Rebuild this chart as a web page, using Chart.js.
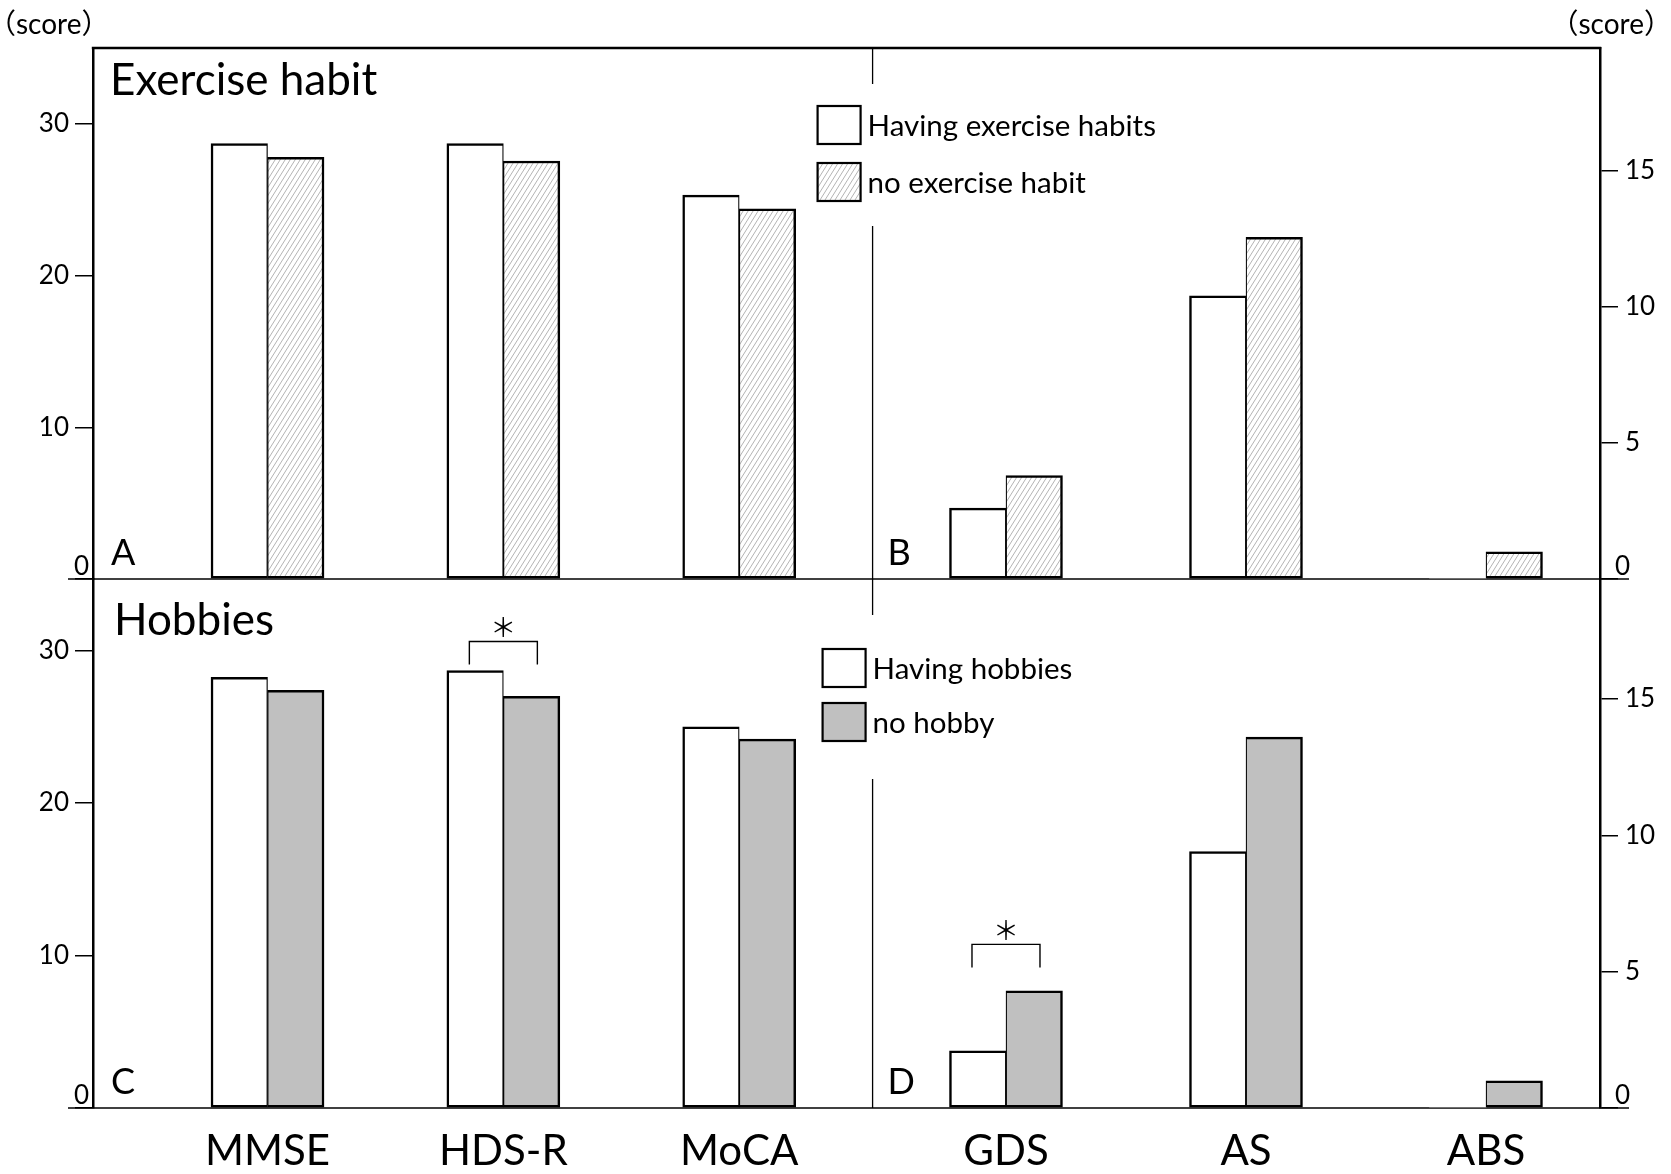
<!DOCTYPE html>
<html>
<head>
<meta charset="utf-8">
<title>Exercise habit / Hobbies</title>
<script src="https://cdn.jsdelivr.net/npm/chart.js@4.4.0/dist/chart.umd.min.js"></script>
<style>
  html, body { margin: 0; padding: 0; background: #fff; }
  #wrap { position: relative; width: 1671px; height: 1174px; }
  #wrap canvas { position: absolute; left: 0; top: 0; }
</style>
</head>
<body>
<div id="wrap">
  <canvas id="topLeft" width="1671" height="1174"></canvas>
  <canvas id="topRight" width="1671" height="1174"></canvas>
  <canvas id="bottomLeft" width="1671" height="1174"></canvas>
  <canvas id="bottomRight" width="1671" height="1174"></canvas>
</div>
<script>
/* ── DATA ──────────────────────────────────── */
const cognitiveTests = ['MMSE', 'HDS-R', 'MoCA'];   // left axis
const moodTests      = ['GDS', 'AS', 'ABS'];        // right axis
const leftTicks  = [0, 10, 20, 30];
const rightTicks = [0, 5, 10, 15];

// A / B : exercise habit
const exerciseYesLeft  = [28.7, 28.7, 25.3];
const exerciseNoLeft   = [27.8, 27.55, 24.4];
const exerciseYesRight = [2.6, 10.4, 0];
const exerciseNoRight  = [3.8, 12.55, 1.0];

// C / D : hobbies
const hobbyYesLeft  = [28.25, 28.7, 25.0];
const hobbyNoLeft   = [27.4, 27.0, 24.2];
const hobbyYesRight = [2.1, 9.4, 0];
const hobbyNoRight  = [4.3, 13.6, 1.0];

// significance brackets (category, bracket height in axis units)
const hobbySig = [{ cat: 'HDS-R', at: 30.6 }, { cat: 'GDS', at: 6.0 }];

/* ── STYLE ─────────────────────────────────── */
const FONT = 'Lato, "Noto Sans CJK JP", sans-serif';
const GRAY = '#c0c0c0';

function makeHatch() {
  const c = document.createElement('canvas');
  c.width = 5; c.height = 8;
  const g = c.getContext('2d');
  g.fillStyle = '#fff';
  g.fillRect(0, 0, 5, 8);
  g.strokeStyle = '#b4b4b4';
  g.lineWidth = 1;
  g.beginPath();
  g.moveTo(-5, 8); g.lineTo(0, 0);
  g.moveTo(0, 8);  g.lineTo(5, 0);
  g.moveTo(5, 8);  g.lineTo(10, 0);
  g.stroke();
  return g.createPattern(c, 'repeat');
}
const HATCH = makeHatch();

// slot 0 = left bar of the pair, slot 1 = right bar; the shared edge stays one line thick
function bars(label, fill, values, slot) {
  const edge = slot === 0 ? { top: 2.5, bottom: 2.5, left: 2.5, right: 1.25 }
                          : { top: 2.5, bottom: 2.5, left: 1.25, right: 2.5 };
  return {
    label,
    data: values.map((v, i) => ({ x: i, y: v })),
    backgroundColor: fill,
    borderColor: '#000',
    borderWidth: c => (c.raw && c.raw.y > 0 ? edge : 0),
    borderSkipped: false,
    barThickness: 56.5
  };
}

function yAxis(position, max, tickValues, width, pad) {
  return {
    type: 'linear', position, min: 0, max,
    afterBuildTicks: s => { s.ticks = tickValues.map(v => ({ value: v })); },
    afterFit: s => { s.width = width; },
    grid: { drawOnChartArea: false, drawTicks: true, tickLength: 18, color: '#000', lineWidth: 1.5 },
    border: { display: true, color: '#000', width: 2.5 },
    ticks: {
      color: '#000', padding: pad,
      font: { family: FONT, size: 26 },
      callback: v => (v === 0 ? '' : String(v))   // zero is drawn by the plugin
    }
  };
}

/* ── DECORATION PLUGIN ─────────────────────── */
const leftHalves = {};

function line(ctx, x1, y1, x2, y2, w) {
  ctx.lineWidth = w;
  ctx.beginPath();
  ctx.moveTo(x1, y1);
  ctx.lineTo(x2, y2);
  ctx.stroke();
}

const panelDecor = {
  id: 'panelDecor',
  afterDatasetsDraw(chart, args, o) {
    const { ctx, chartArea: a } = chart;
    const { x, y } = chart.scales;
    const isL = o.side === 'L';
    const cats = isL ? cognitiveTests : moodTests;
    const y0 = y.getPixelForValue(0);

    ctx.save();
    ctx.strokeStyle = '#000';
    ctx.fillStyle = '#000';
    ctx.textBaseline = 'alphabetic';

    if (isL) {
      if (o.topFrame) line(ctx, a.left - 1.2, a.top, a.right + 1.2, a.top, 2.5);
      line(ctx, a.left - 25, y0, a.right + 29, y0, 1.5);

      ctx.font = `26px ${FONT}`;
      ctx.textAlign = 'right';
      ctx.fillText('0', a.left - 4, y0 - 4);

      ctx.textAlign = 'left';
      ctx.font = `44px ${FONT}`;
      ctx.fillText(o.title, a.left + o.titleX, a.top + o.titleY);
      ctx.font = `36px ${FONT}`;
      ctx.fillText(o.letters[0], a.left + 18, y0 - 14);

      if (o.unitLabels) {
        ctx.font = `28px ${FONT}`;
        const m = ctx.measureText('（score）');
        ctx.fillText('（score）', a.left - 86 + m.actualBoundingBoxLeft, 34);
      }
    } else {
      const xl = leftHalves[o.panel].scales.x;
      const divX = (xl.getPixelForValue(cognitiveTests.length - 1) + x.getPixelForValue(0)) / 2;

      // broken divider between the two halves
      o.divider.forEach(([s, e]) => line(ctx, divX, a.top + s, divX, a.top + e, 1.3));

      ctx.font = `26px ${FONT}`;
      ctx.textAlign = 'left';
      ctx.fillText('0', a.right + 15, y0 - 4);
      ctx.font = `36px ${FONT}`;
      ctx.fillText(o.letters[1], divX + 15, y0 - 14);

      // legend
      const ds = chart.data.datasets;
      ctx.font = `29.5px ${FONT}`;
      ds.forEach((d, i) => {
        const bx = divX + o.legendX, by = a.top + o.legendY + i * o.legendGap;
        ctx.fillStyle = d.backgroundColor;
        ctx.fillRect(bx, by, 43, 38);
        ctx.lineWidth = 2.2;
        ctx.strokeRect(bx, by, 43, 38);
        ctx.fillStyle = '#000';
        ctx.fillText(d.label, bx + 50, by + 30);
      });

      if (o.unitLabels) {
        ctx.font = `28px ${FONT}`;
        const m = ctx.measureText('（score）');
        ctx.fillText('（score）', a.right + 53 - m.actualBoundingBoxRight, 34);
      }
    }

    // significance brackets
    (o.sig || []).filter(s => cats.includes(s.cat)).forEach(s => {
      const cx = x.getPixelForValue(cats.indexOf(s.cat));
      const by = y.getPixelForValue(s.at);
      ctx.lineWidth = 1.4;
      ctx.beginPath();
      ctx.moveTo(cx - 34, by + 23);
      ctx.lineTo(cx - 34, by);
      ctx.lineTo(cx + 34, by);
      ctx.lineTo(cx + 34, by + 23);
      ctx.stroke();
      ctx.font = `26px "Noto Sans CJK JP", ${FONT}`;
      ctx.textAlign = 'center';
      ctx.textBaseline = 'middle';
      ctx.fillText('＊', cx, by - 14);
      ctx.textBaseline = 'alphabetic';
    });

    // category names under the lower panel
    if (o.categoryLabels) {
      ctx.font = `42px ${FONT}`;
      ctx.textAlign = 'center';
      cats.forEach((c, i) => ctx.fillText(c, x.getPixelForValue(i), a.bottom + 57));
    }
    ctx.restore();
  }
};

/* ── BUILD PANELS ──────────────────────────── */
function makeHalf(canvasId, p, side) {
  const isL = side === 'L';
  const vals = isL ? p.left : p.right;
  return new Chart(document.getElementById(canvasId), {
    type: 'bar',
    data: {
      datasets: [
        bars(p.labels[0], '#fff', vals[0], 0),
        bars(p.labels[1], p.fill, vals[1], 1)
      ]
    },
    options: {
      responsive: false,
      animation: false,
      events: [],
      layout: { padding: { top: p.top, bottom: p.bottom, left: isL ? 0 : 93, right: isL ? 71 : 0 } },
      plugins: {
        legend: { display: false },
        tooltip: { enabled: false },
        panelDecor: Object.assign({ side, panel: p.name }, p.decor)
      },
      scales: {
        // category slots: left half starts further in from the frame than the right half
        x: isL
          ? { type: 'linear', display: false, offset: false, min: -0.74, max: 5.65 }
          : { type: 'linear', display: false, offset: false, min: -3.804, max: 2.475 },
        y: isL
          ? yAxis('left', p.leftMax, leftTicks, 93, 6)
          : yAxis('right', p.rightMax, rightTicks, 71, 7)
      }
    },
    plugins: [panelDecor]
  });
}

function makePanel(p) {
  leftHalves[p.name] = makeHalf(p.name + 'Left', p, 'L');
  makeHalf(p.name + 'Right', p, 'R');
}

makePanel({
  name: 'top',
  labels: ['Having exercise habits', 'no exercise habit'],
  fill: HATCH,
  left: [exerciseYesLeft, exerciseNoLeft],
  right: [exerciseYesRight, exerciseNoRight],
  leftMax: 35, rightMax: 19.5,
  top: 48, bottom: 595,
  decor: {
    title: 'Exercise habit', titleX: 17, titleY: 47, letters: ['A', 'B'],
    topFrame: true, unitLabels: true,
    divider: [[0, 36], [178, 567]],
    legendX: -55, legendY: 58, legendGap: 57
  }
});

makePanel({
  name: 'bottom',
  labels: ['Having hobbies', 'no hobby'],
  fill: GRAY,
  left: [hobbyYesLeft, hobbyNoLeft],
  right: [hobbyYesRight, hobbyNoRight],
  leftMax: 34.7, rightMax: 19.4,
  top: 579, bottom: 66,
  decor: {
    title: 'Hobbies', titleX: 21, titleY: 56, letters: ['C', 'D'],
    categoryLabels: true,
    divider: [[200, 529]],
    legendX: -50, legendY: 70, legendGap: 54,
    sig: hobbySig
  }
});
</script>
</body>
</html>
